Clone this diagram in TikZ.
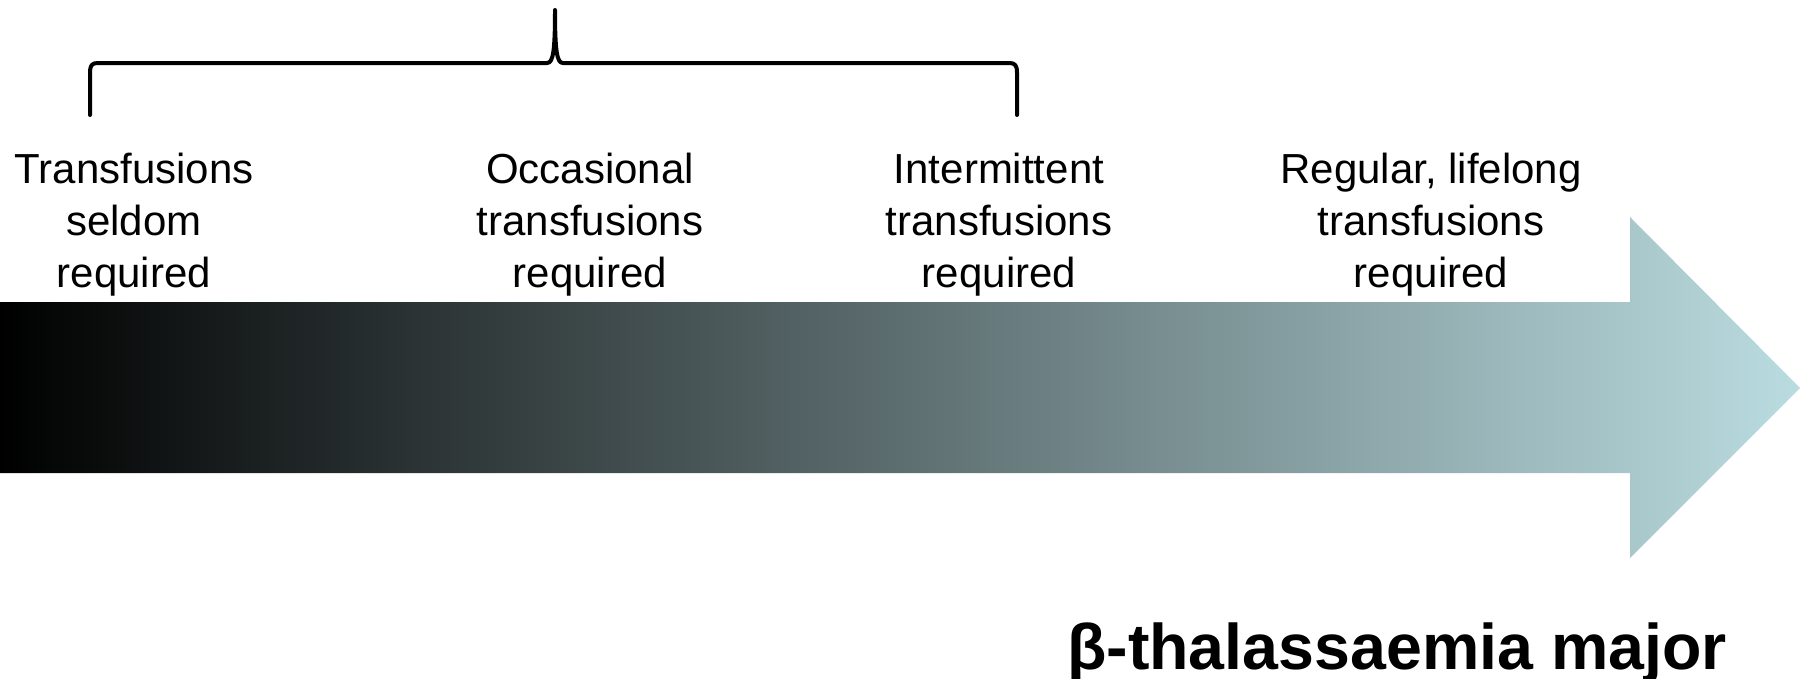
\documentclass[tikz,border=0pt]{standalone}
\usepackage{fontspec}
\setmainfont{Liberation Sans}
\definecolor{arrowend}{HTML}{BADCE0}
\tikzset{
  label/.style={align=center, inner sep=0pt, font=\fontsize{42}{52}\selectfont},
  title/.style={inner sep=0pt, anchor=base, font=\fontsize{64.5}{70}\selectfont\bfseries},
  brace/.style={line width=4pt, line join=round, line cap=round}
}
\begin{document}
\begin{tikzpicture}[x=1pt,y=-1pt]
\useasboundingbox (0,0) rectangle (1808,678);
% gradient arrow
\shade[left color=black, right color=arrowend]
  (0,302) -- (1630,302) -- (1630,217) -- (1800,388) -- (1630,558) -- (1630,473) -- (0,473) -- cycle;
% brace
\draw[brace] (90,115) -- (90,73) .. controls (90,65) and (92,63) .. (98,63)
  -- (547,63) .. controls (553,63) and (555,52) .. (555,10)
  .. controls (555,52) and (557,63) .. (563,63)
  -- (1009,63) .. controls (1015,63) and (1017,65) .. (1017,73) -- (1017,115);
% labels
\node[label] (l1) at (134,225) {Transfusions\\seldom\\required};
\node[label] (l2) at (590,225) {Occasional\\transfusions\\required};
\node[label] (l3) at (999,225) {Intermittent\\transfusions\\required};
\node[label] (l4) at (1431,225) {Regular, lifelong\\transfusions\\required};
\node[title] (t) at (1397,669) {β-thalassaemia major};
\end{tikzpicture}
\end{document}
